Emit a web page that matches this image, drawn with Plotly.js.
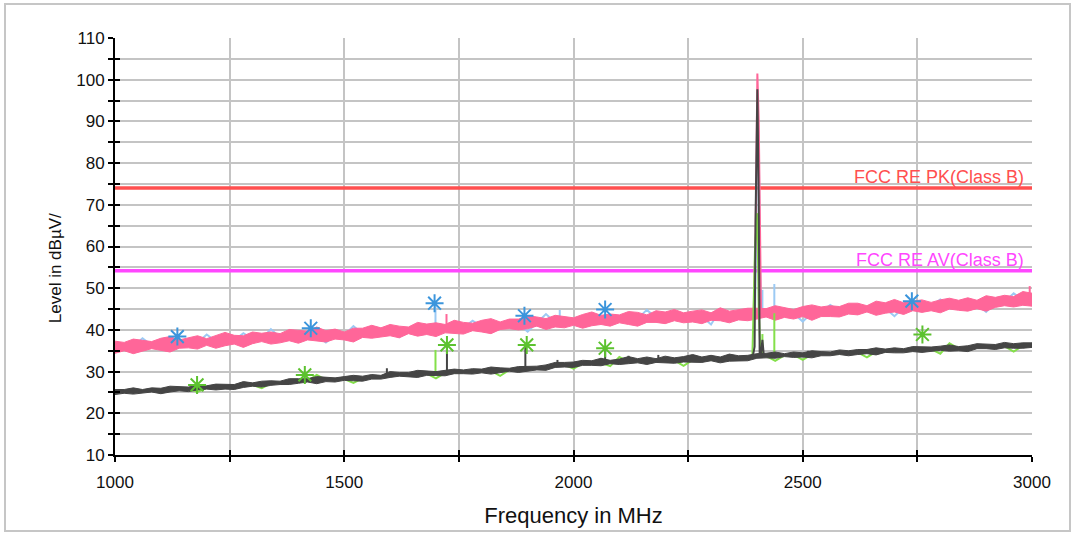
<!DOCTYPE html>
<html>
<head>
<meta charset="utf-8">
<script src="https://cdn.plot.ly/plotly-3.0.1.min.js"></script>
<style>
  html, body { margin: 0; padding: 0; background: #ffffff; }
  #chart { width: 1073px; height: 534px; position: absolute; left: 0; top: 0; }
  #frame { position: absolute; left: 4px; top: 3px; width: 1063px; height: 525px; border: 2px solid #c6c6c6; pointer-events: none; }
</style>
</head>
<body>
<div id="chart"></div>
<div id="frame"></div>
<script>
// ---------- data ----------
const freq = [1000,1020,1040,1060,1080,1100,1120,1140,1160,1180,1200,1220,1240,1260,1280,1300,1320,1340,1360,1380,
  1400,1420,1440,1460,1480,1500,1520,1540,1560,1580,1600,1620,1640,1660,1680,1700,1720,1740,1760,1780,
  1800,1820,1840,1860,1880,1900,1920,1940,1960,1980,2000,2020,2040,2060,2080,2100,2120,2140,2160,2180,
  2200,2220,2240,2260,2280,2300,2320,2340,2360,2380,2400,2420,2440,2460,2480,2500,2520,2540,2560,2580,
  2600,2620,2640,2660,2680,2700,2720,2740,2760,2780,2800,2820,2840,2860,2880,2900,2920,2940,2960,2980,3000];

// Peak detector trace (pink): upper / lower edge of the noise band
const peakHi = [37.3,37.0,37.8,37.5,37.2,38.0,38.4,37.6,38.1,38.6,37.9,38.6,39.4,38.7,38.6,39.5,39.2,39.5,39.1,40.1,
  39.9,39.7,40.7,39.8,40.2,39.5,40.4,40.4,41.1,40.5,41.3,40.9,40.7,41.8,41.4,41.7,41.3,42.3,41.8,41.6,
  42.3,42.7,41.9,42.6,42.6,43.4,43.1,42.7,43.5,43.2,42.9,43.7,44.3,43.5,43.8,43.6,44.4,44.2,43.6,44.6,
  44.3,44.9,44.1,44.5,44.8,44.1,45.3,44.5,44.9,45.2,45.2,45.1,45.8,45.3,44.9,45.6,46.0,45.5,45.8,45.6,
  46.4,46.4,45.8,46.9,46.5,47.3,46.5,46.9,47.2,46.6,47.2,47.6,47.1,47.7,47.1,48.2,47.8,48.3,48.0,49.2,48.8];
const peakLo = [34.4,35.0,34.3,34.9,35.5,35.1,34.7,35.6,35.7,35.4,36.3,35.6,36.2,36.6,35.8,36.7,37.2,36.6,36.9,37.4,
  36.8,37.6,37.4,37.1,37.8,37.6,37.1,38.2,38.0,38.3,38.6,38.1,39.1,38.5,38.9,38.4,39.3,39.1,39.0,39.8,
  39.5,39.1,40.1,40.3,40.0,40.3,40.9,40.1,40.7,40.5,41.1,40.4,41.0,41.3,40.9,41.7,41.3,40.9,41.8,41.8,
  41.5,42.2,41.7,41.9,41.5,42.3,42.2,41.7,42.4,42.2,42.6,43.1,42.3,43.0,42.6,43.2,42.3,43.2,43.2,43.1,
  43.8,43.6,44.3,43.5,44.0,44.3,43.7,44.6,44.2,44.6,44.1,45.0,44.7,44.5,45.1,44.5,45.4,45.8,45.5,45.9,45.7];
// Second peak trace (light blue), mostly hidden under the pink one
const peakBlue = [35.8,35.9,36.0,38.0,36.3,36.4,36.5,36.6,36.8,36.9,38.9,37.2,37.4,37.5,39.2,37.8,37.9,40.2,38.2,38.3,
  38.5,38.6,38.6,37.0,38.6,38.7,40.9,39.1,39.3,39.5,39.6,38.3,39.8,39.9,40.0,40.1,40.2,40.3,40.5,42.2,
  40.8,40.9,41.1,41.2,41.4,39.6,41.6,43.8,41.8,41.9,42.0,42.1,42.2,42.3,42.4,42.5,42.6,42.7,44.8,42.9,
  43.0,43.0,43.1,43.1,43.2,41.3,44.9,43.3,43.4,43.5,43.8,44.0,44.0,44.0,44.0,42.0,44.1,44.3,46.0,44.6,
  44.7,44.9,45.0,45.1,45.2,43.3,45.4,45.5,45.6,45.7,47.3,45.8,45.9,46.0,46.1,44.3,46.5,46.7,48.8,47.1,47.3];

// Average detector trace (dark grey): upper / lower edge
const avgHi = [25.7,25.7,26.1,25.7,26.1,26.0,26.5,26.4,26.3,26.7,26.6,27.0,26.9,26.9,27.6,27.3,27.7,27.8,27.7,28.3,
  28.3,28.3,28.8,28.7,28.5,28.8,29.1,28.9,29.3,29.1,30.0,29.8,29.8,30.3,30.2,30.0,30.3,30.6,30.4,30.7,
  30.6,31.1,30.9,30.8,31.2,31.3,31.3,31.6,32.2,32.2,32.3,32.7,32.6,33.2,32.7,33.0,33.6,33.1,33.5,33.1,
  33.7,33.3,33.6,34.1,33.5,33.9,33.5,34.2,33.8,33.9,34.3,34.4,34.7,34.3,34.7,34.5,35.0,34.8,34.7,35.2,
  35.0,35.3,35.3,35.7,35.4,35.7,35.5,36.0,35.9,35.9,36.1,36.4,36.0,36.2,36.7,36.6,36.5,37.0,36.7,36.9,36.9];
const avgLo = [24.5,24.8,24.6,24.8,25.1,24.7,25.1,25.4,25.2,25.6,25.8,25.6,25.8,25.7,26.2,26.5,26.3,26.7,26.9,26.9,
  27.2,27.5,27.1,27.6,27.5,27.9,27.8,27.7,28.2,28.2,28.6,28.9,28.8,28.6,29.1,29.1,29.0,29.5,29.5,29.4,
  29.7,29.4,29.8,30.1,29.8,30.1,30.4,30.3,31.0,31.1,31.0,31.5,31.5,31.4,31.9,31.7,31.9,32.1,31.7,32.2,
  32.1,32.0,32.3,32.3,32.2,32.6,32.1,32.5,32.6,32.6,33.2,33.3,33.2,33.6,33.4,33.5,33.3,33.8,33.8,34.1,
  33.8,34.1,34.3,34.0,34.6,34.5,34.5,34.8,34.6,34.9,35.1,34.9,35.0,34.8,35.5,35.5,35.3,35.7,35.6,35.6,35.8];
// Second average trace (green), mostly hidden under the grey one
const avgGreen = [25.1,25.2,25.3,25.3,25.4,25.5,25.6,25.8,25.9,25.1,26.1,26.2,26.3,26.5,26.6,26.8,26.0,27.2,27.3,27.5,
  27.7,27.8,29.2,28.0,28.1,28.2,27.3,28.4,28.6,28.7,29.2,29.2,29.3,29.4,29.5,28.4,29.7,29.8,29.9,30.0,
  30.1,30.2,29.0,30.4,30.4,30.6,30.8,31.0,31.3,31.6,30.7,31.9,32.0,32.1,31.3,33.5,32.4,32.5,32.5,32.6,
  32.6,32.7,31.4,32.8,32.8,32.9,32.9,33.0,33.0,33.2,33.6,33.8,32.6,33.9,34.0,32.8,34.1,34.2,34.3,34.4,
  34.5,34.6,33.4,34.8,34.9,35.0,35.1,35.2,35.3,35.4,34.3,36.8,35.5,35.6,35.9,36.0,36.0,36.1,34.8,36.2,36.3];

// Narrow spikes: frequency, level at the foot, level at the top
const pinkSpikeF = [1723, 2995];
const pinkSpikeBase = [40.2, 47.3];
const pinkSpikeTop = [43.8, 50.5];
const blueSpikeF = [1699, 1970, 2412, 2438];
const blueSpikeBase = [40.1, 41.8, 44.0, 44.0];
const blueSpikeTop = [46.4, 44.8, 49.6, 51.0];
const greenSpikeF = [1699, 2412, 2438];
const greenSpikeBase = [29.6, 34.0, 33.8];
const greenSpikeTop = [35.2, 39.0, 44.0];
const greySpikeF = [1593, 1724, 1895, 1965, 2069, 2120, 2185, 2265, 2340, 2512];
const greySpikeBase = [28.7, 29.7, 30.5, 31.4, 32.1, 32.4, 32.6, 32.8, 33.0, 34.1];
const greySpikeTop = [30.8, 36.4, 36.4, 32.8, 35.0, 33.8, 34.0, 33.9, 33.9, 35.0];

// 2.4 GHz carrier
const pinkPeakF = [2393, 2397, 2399, 2401, 2404, 2407, 2409];
const pinkPeakV = [44.0, 62.0, 80.0, 101.5, 90.0, 60.0, 44.0];
const bluePeakF = [2396, 2401, 2404, 2406, 2409];
const bluePeakV = [44.0, 92.0, 86.7, 60.0, 44.0];
const greyPeakF = [2386, 2392, 2395, 2397, 2401, 2404, 2406, 2409, 2412, 2415];
const greyPeakV = [33.3, 34.2, 36.0, 66.0, 97.7, 71.0, 34.5, 34.3, 37.6, 34.0];
const greenPeakF = [2390, 2396, 2401, 2404, 2408];
const greenPeakV = [33.2, 60.0, 68.0, 45.0, 33.8];

// Detected points (asterisks)
const peakMarkF = [1136, 1427, 1697, 1893, 2069, 2738];
const peakMarkV = [38.4, 40.4, 46.4, 43.4, 44.9, 46.9];
const avgMarkF = [1179, 1414, 1724, 1898, 2069, 2761];
const avgMarkV = [26.8, 29.2, 36.4, 36.4, 35.6, 38.9];

// Limit lines
const limitNames = ["FCC RE PK(Class B)", "FCC RE AV(Class B)"];
const limitLevels = [74, 54.2];
const xRange = [1000, 3000];
const yRange = [10, 110];
const xTitle = 'Frequency in MHz';
const yTitle = 'Level in dBµV/';

// ---------- styling ----------
const C_PINK = '#ff6699', C_BLUE = '#9ccaf4', C_GREY = '#454545', C_GREEN = '#84e04a';
const C_BLUEMK = '#3b95dc', C_GREENMK = '#5cc22f';
const limitColors = ['#ff4f4f', '#ff47ff'];

function spikes(f, b, t) {
  const x = [], y = [];
  for (let i = 0; i < f.length; i++) { x.push(f[i], f[i], null); y.push(b[i], t[i], null); }
  return {x, y};
}
function band(hi, lo) {
  return { x: freq.concat(freq.slice().reverse()), y: hi.concat(lo.slice().reverse()) };
}

const traces = [];
limitLevels.forEach((lv, i) => {
  traces.push({ x: xRange, y: [lv, lv], mode: 'lines', line: {color: limitColors[i], width: 3.5}, hoverinfo: 'skip' });
});
traces.push({ x: freq, y: peakBlue, mode: 'lines', line: {color: C_BLUE, width: 2} });
let s = spikes(blueSpikeF, blueSpikeBase, blueSpikeTop);
traces.push({ x: s.x, y: s.y, mode: 'lines', line: {color: C_BLUE, width: 2} });
traces.push({ x: bluePeakF, y: bluePeakV, mode: 'lines', line: {color: C_BLUE, width: 2} });
let b = band(peakHi, peakLo);
traces.push({ x: b.x, y: b.y, mode: 'lines', fill: 'toself', fillcolor: C_PINK, line: {color: C_PINK, width: 1} });
s = spikes(pinkSpikeF, pinkSpikeBase, pinkSpikeTop);
traces.push({ x: s.x, y: s.y, mode: 'lines', line: {color: C_PINK, width: 2} });
traces.push({ x: pinkPeakF, y: pinkPeakV, mode: 'lines', line: {color: C_PINK, width: 2} });
traces.push({ x: freq, y: avgGreen, mode: 'lines', line: {color: C_GREEN, width: 2} });
s = spikes(greenSpikeF, greenSpikeBase, greenSpikeTop);
traces.push({ x: s.x, y: s.y, mode: 'lines', line: {color: C_GREEN, width: 2} });
traces.push({ x: greenPeakF, y: greenPeakV, mode: 'lines', line: {color: C_GREEN, width: 2} });
b = band(avgHi, avgLo);
traces.push({ x: b.x, y: b.y, mode: 'lines', fill: 'toself', fillcolor: C_GREY, line: {color: C_GREY, width: 1} });
s = spikes(greySpikeF, greySpikeBase, greySpikeTop);
traces.push({ x: s.x, y: s.y, mode: 'lines', line: {color: C_GREY, width: 2} });
traces.push({ x: greyPeakF, y: greyPeakV, mode: 'lines', line: {color: C_GREY, width: 2} });
traces.push({ x: peakMarkF, y: peakMarkV, mode: 'markers',
  marker: {symbol: 'asterisk-open', size: 15, color: C_BLUEMK, line: {color: C_BLUEMK, width: 2}} });
traces.push({ x: avgMarkF, y: avgMarkV, mode: 'markers',
  marker: {symbol: 'asterisk-open', size: 15, color: C_GREENMK, line: {color: C_GREENMK, width: 2}} });
traces.push({ x: [], y: [], xaxis: 'x2', yaxis: 'y2', mode: 'lines', hoverinfo: 'skip' });

const FONT = '"Liberation Sans", Arial, sans-serif';
const gridCol = '#c4c4c4';
const annotations = limitNames.map((t, i) => ({
  text: t, x: xRange[1], y: limitLevels[i], xref: 'x', yref: 'y',
  xanchor: 'right', yanchor: 'bottom', xshift: -6, yshift: -1, showarrow: false,
  font: {family: FONT, size: 18, color: limitColors[i]}
}));
annotations.push({
  text: yTitle, xref: 'paper', yref: 'paper', x: -0.0654, y: 0.448,
  xanchor: 'center', yanchor: 'middle', textangle: -90, showarrow: false,
  font: {family: FONT, size: 17, color: '#111'}
});

const layout = {
  width: 1073, height: 534,
  margin: {l: 115, r: 41, t: 38, b: 79},
  paper_bgcolor: '#ffffff', plot_bgcolor: '#ffffff',
  showlegend: false,
  font: {family: FONT, size: 17, color: '#111111'},
  xaxis: {
    range: xRange, dtick: 500, tick0: 1000,
    showgrid: true, gridcolor: gridCol, gridwidth: 2,
    ticks: 'outside', ticklen: 5, tickwidth: 2, tickcolor: '#000',
    minor: {dtick: 250, ticks: 'outside', ticklen: 5, tickwidth: 2, tickcolor: '#000', showgrid: true, gridcolor: gridCol, gridwidth: 2},
    showline: true, linecolor: '#000', linewidth: 2,
    zeroline: false, ticklabelstandoff: 6,
    tickfont: {family: FONT, size: 17, color: '#111'},
    title: {text: xTitle, font: {family: FONT, size: 22, color: '#111'}, standoff: 16}
  },
  yaxis: {
    range: yRange, dtick: 10, tick0: 10,
    showgrid: true, gridcolor: gridCol, gridwidth: 2,
    ticks: 'outside', ticklen: 5, tickwidth: 2, tickcolor: '#000',
    minor: {dtick: 5, ticks: 'outside', ticklen: 5, tickwidth: 2, tickcolor: '#000', showgrid: true, gridcolor: gridCol, gridwidth: 2},
    showline: true, linecolor: '#000', linewidth: 2,
    zeroline: false, ticklabelstandoff: 0,
    tickfont: {family: FONT, size: 17, color: '#111'}
  },
  xaxis2: {
    overlaying: 'x', anchor: 'y', range: xRange, dtick: 500, tick0: 1000,
    showgrid: false, zeroline: false, showticklabels: false,
    ticks: 'inside', ticklen: 5, tickwidth: 2, tickcolor: '#000',
    minor: {dtick: 250, ticks: 'inside', ticklen: 5, tickwidth: 2, tickcolor: '#000', showgrid: false}
  },
  yaxis2: {
    overlaying: 'y', anchor: 'x', range: yRange, dtick: 10, tick0: 10,
    showgrid: false, zeroline: false, showticklabels: false,
    ticks: 'inside', ticklen: 5, tickwidth: 2, tickcolor: '#000',
    minor: {dtick: 5, ticks: 'inside', ticklen: 5, tickwidth: 2, tickcolor: '#000', showgrid: false}
  },
  annotations: annotations
};

Plotly.newPlot('chart', traces, layout, {displayModeBar: false, staticPlot: true});
</script>
</body>
</html>
